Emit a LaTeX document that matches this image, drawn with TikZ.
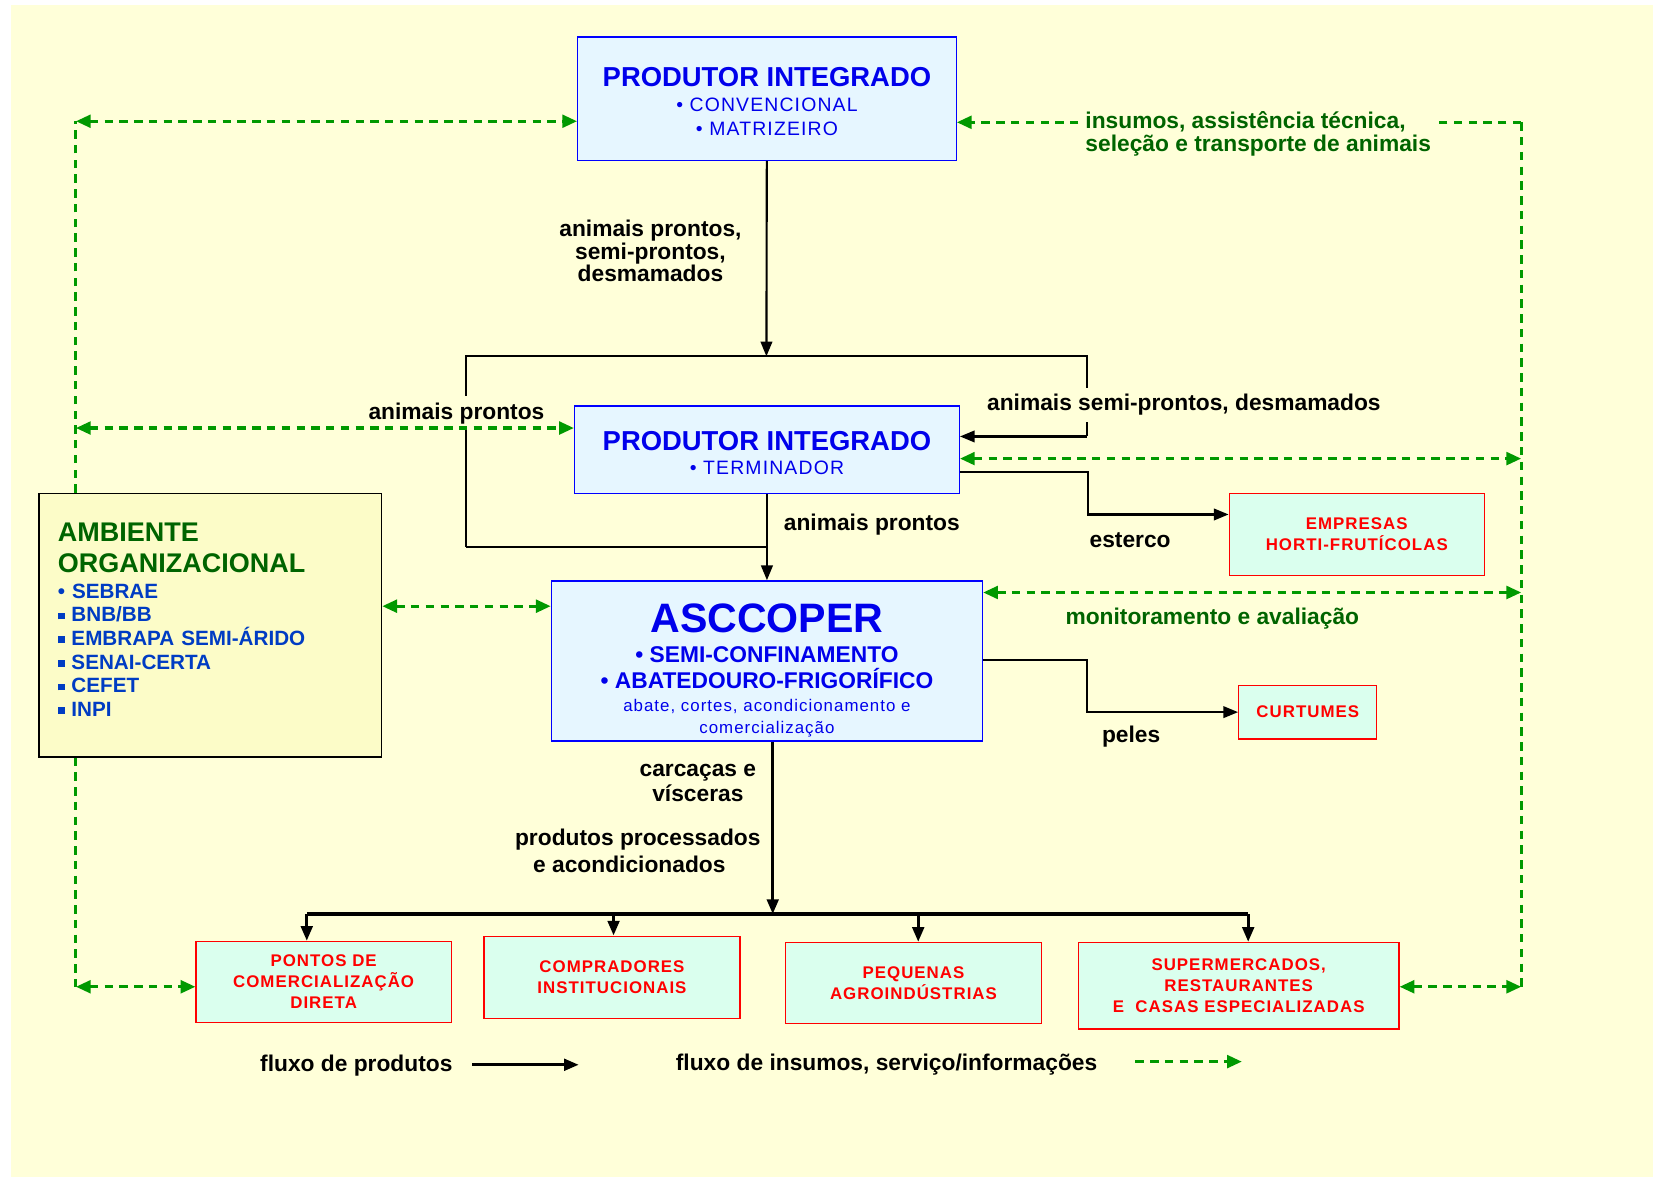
\documentclass[tikz,border=0pt]{standalone}
\usepackage{fontspec}
\setmainfont{Liberation Sans}
\newfontfamily\widesans[LetterSpace=6]{Liberation Sans}
\usetikzlibrary{arrows.meta,positioning}

\definecolor{bgyellow}{RGB}{255,255,217}
\definecolor{ambfill}{RGB}{252,252,200}
\definecolor{boxblue}{RGB}{230,246,255}
\definecolor{boxmint}{RGB}{218,255,238}
\definecolor{titleblue}{RGB}{0,0,235}
\definecolor{itemblue}{RGB}{0,60,195}
\definecolor{infogreen}{RGB}{0,153,0}
\definecolor{ambgreen}{RGB}{0,100,0}

\newcommand{\sqbullet}{\rule[0.12em]{0.32em}{0.32em}}

\tikzset{
  box/.style={draw, line width=0.6pt, align=center, inner sep=2pt},
  bluebox/.style={box, draw=blue, fill=boxblue, text=titleblue},
  redbox/.style={box, draw=red, fill=boxmint, text=red,
    font=\widesans\bfseries\fontsize{8}{10}\selectfont},
  flowline/.style={line width=1pt},
  flow/.style={flowline, -{Triangle[length=7pt,width=5.5pt]}},
  flowthick/.style={line width=1.5pt, -{Triangle[length=7pt,width=5.5pt]}},
  info/.style={draw=infogreen, line width=1.5pt, dash pattern=on 4pt off 3pt},
  infoto/.style={info, -{Triangle[length=7pt,width=6pt]}},
  infoboth/.style={info, {Triangle[length=7pt,width=6pt]}-{Triangle[length=7pt,width=6pt]}},
  flowlabel/.style={font=\bfseries\fontsize{10.8}{12.5}\selectfont, align=center, inner sep=1pt},
  greenlabel/.style={flowlabel, text=ambgreen},
}

\begin{document}
\begin{tikzpicture}[x=0.5pt,y=-0.5pt]
  \useasboundingbox (0,0) rectangle (1568,1116);
  \fill[bgyellow] (10,5) rectangle (1568,1116);

  % boxes
  \node[bluebox, minimum width=179.5pt, minimum height=58.5pt] (pitop) at (727.5,93.5)
    {{\fontsize{13}{15}\selectfont\bfseries\rule{0pt}{11.8pt}PRODUTOR INTEGRADO}\\[0pt]
     {\widesans\fontsize{9.2}{11.5}\selectfont • CONVENCIONAL}\\[-1pt]
     {\widesans\fontsize{9.2}{11.5}\selectfont • MATRIZEIRO}};
  \node[bluebox, minimum width=182.5pt, minimum height=41.5pt] (piterm) at (727.5,426.5)
    {{\fontsize{13}{15}\selectfont\bfseries\rule{0pt}{12.5pt}PRODUTOR INTEGRADO}\\[-0.5pt]
     {\widesans\fontsize{9.2}{11.5}\selectfont • TERMINADOR}};
  \node[bluebox, minimum width=204.5pt, minimum height=76pt,
        font=\fontsize{8}{10}\selectfont] (asc) at (727.5,627)
    {{\fontsize{19.5}{21}\selectfont\bfseries\rule{0pt}{22.5pt}ASCCOPER}\\[4pt]
     {\fontsize{10.8}{12.5}\selectfont\bfseries • SEMI-CONFINAMENTO}\\[2.5pt]
     {\fontsize{10.8}{12.5}\selectfont\bfseries • ABATEDOURO-FRIGORÍFICO}\\[1pt]
     {\widesans abate, cortes, acondicionamento e}\\
     {\widesans comercialização}};
  \node[box, draw=black, fill=ambfill, align=left, text=itemblue,
        minimum width=162.5pt, minimum height=125pt, text width=144.5pt, inner xsep=9pt,
        font=\bfseries\fontsize{9.8}{11.2}\selectfont] (amb) at (199.5,593)
    {{\color{ambgreen}\fontsize{12.8}{14.5}\selectfont AMBIENTE\\[3.3pt]ORGANIZACIONAL}\\[1pt]
     • SEBRAE\\
     \sqbullet\ BNB/BB\\
     \sqbullet\ EMBRAPA SEMI-ÁRIDO\\
     \sqbullet\ SENAI-CERTA\\
     \sqbullet\ CEFET\\
     \sqbullet\ INPI\rule[-5pt]{0pt}{5pt}};
  \node[redbox, minimum width=121pt, minimum height=39pt] (emp) at (1287,507)
    {EMPRESAS\\HORTI-FRUTÍCOLAS};
  \node[redbox, minimum width=65.5pt, minimum height=25.5pt] (curt) at (1240.5,675.5)
    {CURTUMES};
  \node[redbox, minimum width=121pt, minimum height=38.5pt] (pontos) at (307,931.5)
    {PONTOS DE\\COMERCIALIZAÇÃO\\DIRETA};
  \node[redbox, minimum width=121.5pt, minimum height=39pt] (compr) at (580.5,927)
    {COMPRADORES\\INSTITUCIONAIS};
  \node[redbox, minimum width=121.5pt, minimum height=38.5pt] (peq) at (866.5,932.5)
    {PEQUENAS\\AGROINDÚSTRIAS};
  \node[redbox, minimum width=152pt, minimum height=41pt] (super) at (1175,935)
    {SUPERMERCADOS,\\RESTAURANTES\\E \ CASAS ESPECIALIZADAS};

  % product flow
  \coordinate (split) at (727,338);
  \coordinate (barL) at (442,338);
  \coordinate (barR) at (1031,338);
  \coordinate (barLB) at (442,519);
  \coordinate (semiIn) at (1031,414);
  \draw[flow] (pitop) -- (split);
  \draw[flowline] (barLB) -- (barL) -- (barR) -- (semiIn);
  \draw[flow] (semiIn) -- (semiIn -| piterm.east);
  \draw[flowline] (barLB) -- (barLB -| piterm.south);
  \draw[flow] (piterm) -- (asc);

  \coordinate (esA) at (1032,448);
  \coordinate (esB) at (1032,488);
  \draw[flow] (piterm.east |- esA) -- (esA) -- (esB) -- (esB -| emp.west);
  \coordinate (peA) at (1031,626);
  \coordinate (peB) at (1031,675.5);
  \draw[flow] (asc.east |- peA) -- (peA) -- (peB) -- (curt.west);

  \coordinate (distr) at (733,867);
  \coordinate (d1) at (291,867);
  \coordinate (d2) at (582,867);
  \coordinate (d3) at (871,867);
  \coordinate (d4) at (1184,867);
  \draw[flowthick] (asc.south -| distr) -- (distr);
  \draw[line width=1.5pt] (d1) -- (d4);
  \draw[flowthick] (d1) -- (d1 |- pontos.north);
  \draw[flowthick] (d2) -- (d2 |- compr.north);
  \draw[flowthick] (d3) -- (d3 |- peq.north);
  \draw[flowthick] (d4) -- (d4 |- super.north);

  % labels on product flow
  \node[flowlabel, font=\bfseries\fontsize{10.8}{10.8}\selectfont] (lblpronta) at (617,238)
    {animais prontos,\\semi-prontos,\\desmamados};
  \node[flowlabel, fill=bgyellow, inner ysep=3pt] (lblprontos) at (433,392) {animais prontos};
  \node[flowlabel, fill=bgyellow, inner ysep=3pt] (lblsemi) at (1123,384) {animais semi-prontos, desmamados};
  \node[flowlabel] (lblterm) at (827,498) {animais prontos};
  \node[flowlabel] (lblesterco) at (1072,512) {esterco};
  \node[flowlabel] (lblpeles) at (1073,699) {peles};
  \node[flowlabel] (lblcarc) at (662,743) {carcaças e\\[-0.5pt]vísceras};
  \node[flowlabel] (lblproc) at (605,807) {produtos processados\\[0pt]e acondicionados\hspace*{8pt}};

  % information flow
  \coordinate (gTL) at (72,115);
  \coordinate (gML) at (72,406);
  \coordinate (gBL) at (72,936);
  \coordinate (gA) at (442,575);
  \draw[info] (amb.north -| gTL) -- (gTL);
  \draw[infoboth] (gTL) -- (pitop.west |- gTL);
  \draw[infoboth] (gML) -- (piterm.west |- gML);
  \draw[info] (amb.south -| gBL) -- (gBL);
  \draw[infoboth] (gBL) -- (pontos.west |- gBL);
  \draw[infoboth] (amb.east |- gA) -- (asc.west |- gA);

  \coordinate (gTR) at (1443,116);
  \coordinate (gR2) at (1443,435);
  \coordinate (gR3) at (1443,562);
  \coordinate (gBR) at (1443,936);
  \draw[info] (gTR) -- (gBR);
  \draw[infoto] (gTR) -- (pitop.east |- gTR);
  \draw[infoboth] (piterm.east |- gR2) -- (gR2);
  \draw[infoboth] (asc.east |- gR3) -- (gR3);
  \draw[infoboth] (super.east |- gBR) -- (gBR);

  \node[greenlabel, fill=bgyellow, align=left, inner xsep=3pt, font=\bfseries\fontsize{10.8}{10.5}\selectfont] (lblinsumos) at (1193.5,127)
    {insumos, assistência técnica,\\seleção e transporte de animais};
  \node[greenlabel] (lblmonit) at (1150,587) {monitoramento e avaliação};

  % legend
  \node[flowlabel] (legprod) at (338,1011) {fluxo de produtos};
  \coordinate (legA) at (448,1010);
  \coordinate (legB) at (549,1010);
  \draw[flowthick] (legA) -- (legB);
  \node[flowlabel] (leginfo) at (841,1010) {fluxo de insumos, serviço/informações};
  \coordinate (legC) at (1077,1007);
  \coordinate (legD) at (1178,1007);
  \draw[infoto] (legC) -- (legD);
\end{tikzpicture}
\end{document}
